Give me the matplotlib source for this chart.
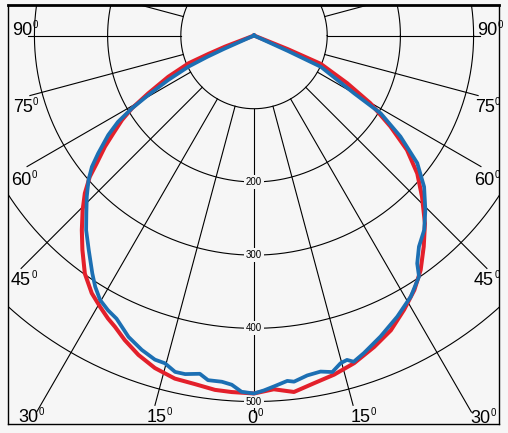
import matplotlib.pyplot as plt
import numpy as np

plt.rcParams['font.family'] = ['Liberation Sans', 'DejaVu Sans']

# luminous intensity, angle from nadir in degrees (negative = left half)
red_angles = [-90, -69, -68, -67, -64.3, -61.3, -59.2, -57.4, -55.2, -53.3, -50.9, -49.3,
              -47, -44.5, -41.5, -38.7, -35.4, -32.2, -29.6, -27.3, -25.5, -23, -19.9,
              -16.6, -13, -9.6, -6.3, -3.6, 0, 3.2, 6.4, 9.8, 13.3, 17, 21.1, 24.9, 28.7,
              32.2, 35.4, 38.8, 42.3, 46.2, 49.8, 53.2, 56.3, 59.8, 62.9, 67, 68, 90]
red_values = [0, 42, 67, 97, 130, 165, 194, 214, 234, 254, 277, 296,
              316, 334, 355, 375, 399, 416, 426, 435, 441, 452, 464,
              474, 481, 483, 487, 488, 489, 484, 490, 482, 476, 468, 456, 444, 427,
              411, 393, 370, 347, 318, 292, 261, 224, 184, 143, 99, 50, 0]

blue_angles = [-90, -66, -65.5, -64.6, -62.6, -60.6, -59.2, -57.6, -55.7, -52.9, -51, -48.9,
               -46.1, -43.3, -40.8, -37.6, -34.2, -32.3, -30.2, -28, -25.9, -22.6, -19.65,
               -17, -15.2, -13.2, -11.5, -9.1, -7.6, -5.3, -3.65, -2, 0, 1.6, 3.3, 5.5,
               6.6, 8.9, 11.2, 13.1, 14.8, 16, 17, 19.1, 22.8, 27, 31, 34.4, 35.6, 38,
               41.2, 44.5, 48.35, 52, 55.4, 58.45, 60, 64.9, 65.5, 90]
blue_values = [0, 45, 70, 99, 132, 166, 194, 220, 241, 267, 285, 300,
               317, 334, 351, 370, 393, 406, 418, 425, 430, 446, 456,
               463, 464, 472, 472, 468, 475, 475, 478, 487, 489, 485, 480, 474,
               476, 470, 468, 472, 463, 461, 466, 459, 446, 431, 416, 399, 383, 366,
               353, 334, 311, 283, 243, 203, 158, 101, 51, 0]

ring_values = [100, 200, 300, 400, 500]
ring_labels = ['200', '300', '400', '500']

spoke_angles = [0, 15, 30, 45, 60, 75, 90, 105]
spoke_ends = [514, 523, 594, 450, 358, 317, 309, 200]

angle_labels = ['90', '75', '60', '45', '30', '15', '0', '15', '30', '45', '60', '75', '90']
label_x = [-330.6, -329.6, -332, -332, -322, -146.6, -9.2, 132.1, 295, 300.5, 300.5, 301.5, 304.6]
label_y = [-0.7, 104.5, 204.2, 340.8, 528, 527.6, 529.4, 527.6, 529.4, 340.8, 204.2, 104.5, -0.7]

bg = '#f6f6f6'


def to_xy(angles, values):
    a = np.radians(np.array(angles, dtype=float))
    r = np.array(values, dtype=float)
    return r * np.sin(a), r * np.cos(a)


fig = plt.figure(figsize=(5.08, 4.33), dpi=100, facecolor=bg)
ax = fig.add_axes([8 / 508, 9 / 433, 491 / 508, 419 / 433])
ax.set_facecolor(bg)

# rings
t = np.linspace(0, 2 * np.pi, 721)
for r in ring_values:
    ax.plot(r * np.cos(t), r * np.sin(t), color='black', lw=0.8, zorder=1)

# spokes
for a, e in zip(spoke_angles, spoke_ends):
    for s in ([1, -1] if a != 0 else [1]):
        x, y = to_xy([s * a, s * a], [100, e])
        ax.plot(x, y, color='black', lw=0.8, zorder=1)

# curves
x, y = to_xy(red_angles, red_values)
ax.plot(x, y, color='#e3202b', lw=2.9, solid_joinstyle='round', zorder=3)
x, y = to_xy(blue_angles, blue_values)
ax.plot(x, y, color='#1c6fb3', lw=2.7, solid_joinstyle='round', zorder=4)

# ring labels
for r, lab in zip(ring_values[1:], ring_labels):
    ax.text(0, r, lab, fontsize=7, ha='center', va='center', zorder=2,
            bbox=dict(boxstyle='square,pad=0.2', fc=bg, ec='none'))

# angle labels with small superscript 0
for lab, lx, ly in zip(angle_labels, label_x, label_y):
    ax.text(lx, ly, lab, fontsize=13, ha='left', va='baseline', zorder=5)
    ax.annotate('0', xy=(lx, ly), xytext=(len(lab) * 7.23 + 0.1, 4.8),
                textcoords='offset points', fontsize=7, ha='left', va='baseline',
                annotation_clip=False, zorder=5)

ax.set_xlim(-336.1, 334.7)
ax.set_ylim(530.7, -41.7)
ax.set_xticks([])
ax.set_yticks([])
for side in ['left', 'right', 'bottom']:
    ax.spines[side].set_linewidth(1.0)
ax.spines['top'].set_linewidth(2.0)

fig.savefig('out.png', dpi=100, facecolor=bg)
